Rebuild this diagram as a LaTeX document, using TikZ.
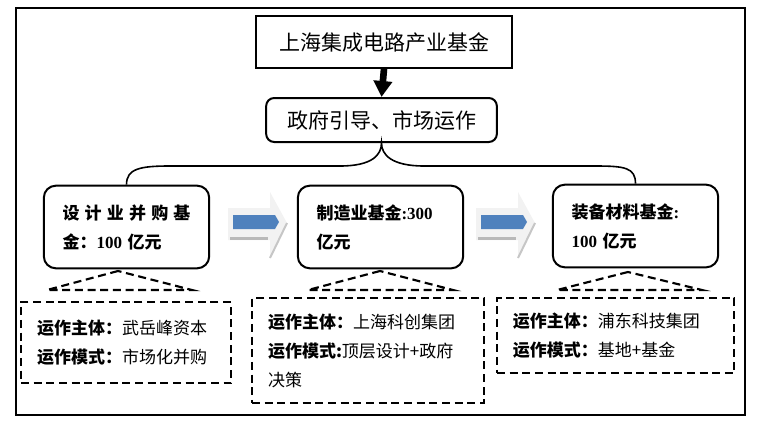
\documentclass[tikz,border=0pt]{standalone}
\usepackage{fontspec}
\setmainfont{Liberation Serif}
\newfontfamily\cjk{Noto Sans CJK SC}
\usetikzlibrary{arrows.meta}
\definecolor{arrowblue}{RGB}{79,129,189}
\newcommand{\num}[1]{{\rmfamily\bfseries #1}}
\newcommand{\gap}{\hspace{3.9pt}}

\begin{document}
\begin{tikzpicture}[x=0.75pt, y=-0.75pt,
  fundbox/.style={draw, line width=1.5pt, minimum width=192pt, minimum height=39pt,
    font=\cjk\fontsize{15.75}{18}\selectfont},
  guidebox/.style={draw, line width=1.5pt, rounded corners=6pt, minimum width=173pt,
    minimum height=33pt, font=\cjk\fontsize{15.75}{18}\selectfont},
  partbox/.style={draw, line width=1.5pt, rounded corners=9pt, minimum width=124pt,
    minimum height=62pt, inner xsep=14pt, text width=96pt, align=left,
    font=\cjk\bfseries\fontsize{12.75}{21.75}\selectfont},
  infobox/.style={draw, dash pattern=on 6pt off 3.5pt, line width=1.6pt, inner xsep=12pt,
    align=left, font=\cjk\fontsize{12.75}{21.75}\selectfont},
  tri/.style={dash pattern=on 6pt off 3.5pt, line width=1.6pt}]
  \useasboundingbox (0,0) rectangle (764,421);
  \draw [line width=1.5pt] (16,8) rectangle (745,415);
  \node (fund) at (384,42) [fundbox] {上海集成电路产业基金};
  \node (guide) at (381.5,120) [guidebox] {政府引导、市场运作};
  \draw [-{Triangle[width=13.5pt,length=12pt]}, line width=5pt] (fund.south) -- (guide.north);
  \node (design) at (126.5,227) [partbox] {设\gap 计\gap 业\gap 并\gap 购\gap 基\\金：\num{100} 亿元};
  \node (manuf) at (380.5,227) [partbox] {制造业基金\num{:300}\\亿元};
  \node (equip) at (635.5,226) [partbox] {装备材料基金\num{:}\\\num{100} 亿元};
  \draw [line width=1.2pt] (design.north) .. controls +(0,-16) and +(-30,0) .. (170,166) -- (340,166)
    .. controls +(32,0) and +(0,12) .. (guide.south)
    .. controls +(0,12) and +(-32,0) .. (424,166) -- (595,166)
    .. controls +(30,0) and +(0,-16) .. (equip.north);
  \foreach \ax in {228,476} {
    \begin{scope}[shift={(\ax,0)}]
      \fill [gray!10] (0,208) -- (42,208) -- (42,192) -- (59,223) -- (42,258) -- (42,240) -- (0,240) -- cycle;
      \fill [gray!55] (2,237) rectangle (40,240);
      \draw [gray!45, line width=1.5pt] (59,223) -- (42,258);
      \fill [arrowblue] (5,215) -- (47,215) -- (51,222) -- (47,229) -- (5,229) -- cycle;
    \end{scope}
  }
  \coordinate (a1) at (118,271);
  \coordinate (a2) at (380,271);
  \coordinate (a3) at (628,272);
  \draw [tri] (a1) -- (47,290) -- (192,290) -- cycle;
  \draw [tri] (a2) -- (308,290) -- (453,290) -- cycle;
  \draw [tri] (a3) -- (557,290) -- (702,290) -- cycle;
  \node (info1) at (126,342.5) [infobox, minimum width=157.5pt, minimum height=61pt, text width=133.5pt]
    {\textbf{运作主体：}武岳峰资本\\\textbf{运作模式：}市场化并购};
  \node (info2) at (368,350.5) [infobox, minimum width=174pt, minimum height=79pt, text width=150pt]
    {\textbf{运作主体：}上海科创集团\\\textbf{运作模式:}顶层设计+政府\\决策};
  \node (info3) at (615.5,335.5) [infobox, minimum width=178pt, minimum height=56pt, text width=154pt]
    {\textbf{运作主体：}浦东科技集团\\\textbf{运作模式：}基地+基金};
\end{tikzpicture}
\end{document}
